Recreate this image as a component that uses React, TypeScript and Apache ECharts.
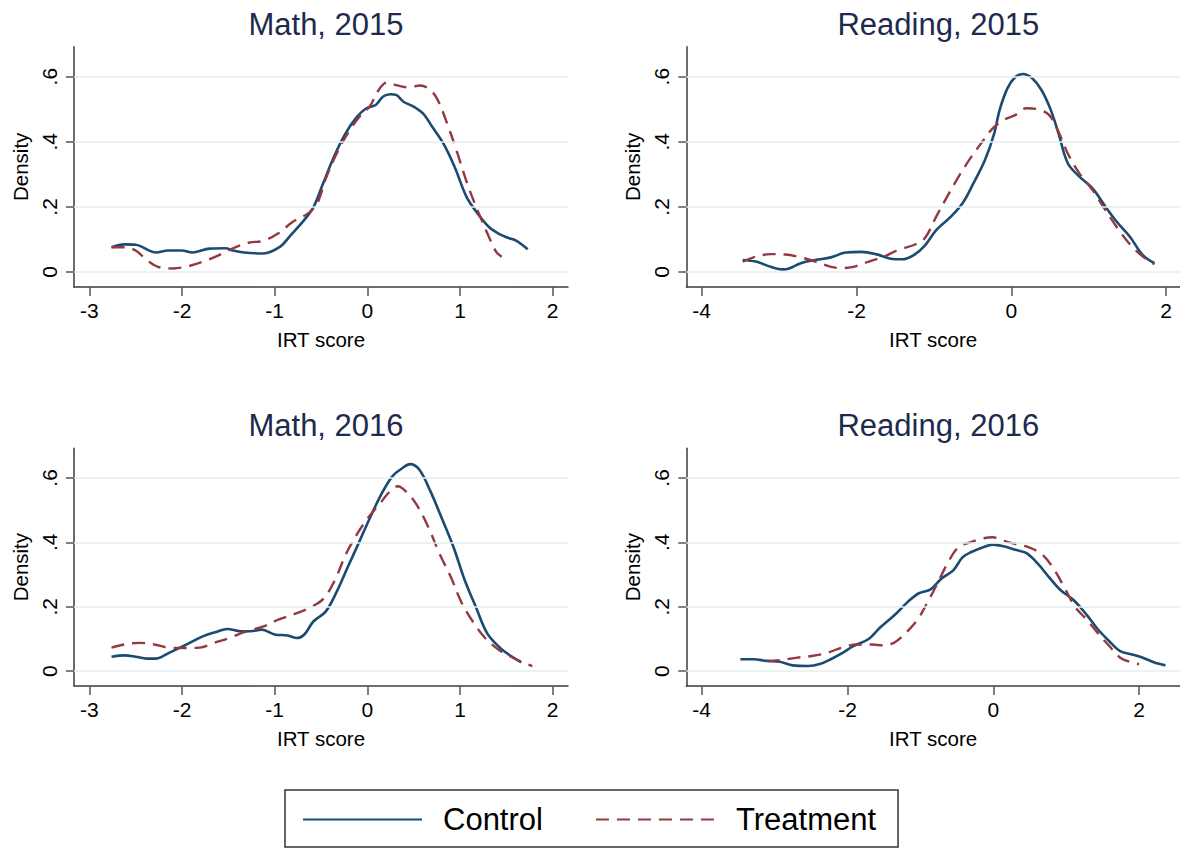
import React, { useEffect, useRef } from "react";
import * as echarts from "echarts";

// ---------- data ----------
const mathXTicks = [-3, -2, -1, 0, 1, 2];
const readingXTicks = [-4, -2, 0, 2];
const densityTicks = [0, 0.2, 0.4, 0.6];
const seriesNames = ["Control", "Treatment"];
const panelTitles = ["Math, 2015", "Reading, 2015", "Math, 2016", "Reading, 2016"];

const mathControl2015: [number, number][] = [
  [-2.76, 0.076], [-2.62, 0.085], [-2.5, 0.084], [-2.28, 0.06], [-2.15, 0.066], [-2.0, 0.066],
  [-1.89, 0.06], [-1.7, 0.072], [-1.53, 0.073], [-1.45, 0.066], [-1.33, 0.06], [-1.12, 0.057],
  [-0.94, 0.078], [-0.84, 0.109], [-0.68, 0.16], [-0.58, 0.2], [-0.48, 0.27], [-0.36, 0.354],
  [-0.235, 0.426], [-0.11, 0.477], [-0.01, 0.503], [0.09, 0.513], [0.17, 0.539], [0.25, 0.546],
  [0.31, 0.544], [0.39, 0.523], [0.5, 0.508], [0.6, 0.487], [0.7, 0.446], [0.82, 0.395],
  [0.94, 0.324], [1.07, 0.231], [1.19, 0.18], [1.31, 0.139], [1.41, 0.119], [1.51, 0.106],
  [1.61, 0.096], [1.73, 0.07],
];
const mathTreatment2015: [number, number][] = [
  [-2.76, 0.076], [-2.62, 0.076], [-2.5, 0.066], [-2.38, 0.037], [-2.26, 0.016], [-2.1, 0.011],
  [-1.93, 0.018], [-1.77, 0.032], [-1.6, 0.052], [-1.45, 0.073], [-1.28, 0.09], [-1.12, 0.096],
  [-0.96, 0.119], [-0.8, 0.155], [-0.64, 0.18], [-0.54, 0.211], [-0.44, 0.293], [-0.32, 0.37],
  [-0.2, 0.431], [-0.07, 0.482], [0.03, 0.51], [0.11, 0.554], [0.21, 0.582], [0.31, 0.574],
  [0.45, 0.567], [0.57, 0.573], [0.68, 0.559], [0.76, 0.528], [0.86, 0.457], [0.96, 0.375],
  [1.09, 0.262], [1.21, 0.175], [1.31, 0.109], [1.39, 0.062], [1.45, 0.047],
];
const readingControl2015: [number, number][] = [
  [-3.47, 0.037], [-3.3, 0.032], [-3.11, 0.016], [-2.96, 0.008], [-2.87, 0.011], [-2.72, 0.027],
  [-2.53, 0.037], [-2.33, 0.045], [-2.14, 0.06], [-1.94, 0.062], [-1.75, 0.055], [-1.56, 0.041],
  [-1.41, 0.039], [-1.26, 0.052], [-1.12, 0.08], [-0.97, 0.129], [-0.78, 0.17], [-0.63, 0.211],
  [-0.49, 0.272], [-0.34, 0.344], [-0.22, 0.426], [-0.15, 0.498], [-0.05, 0.564], [0.05, 0.598],
  [0.15, 0.608], [0.27, 0.595], [0.39, 0.559], [0.51, 0.498], [0.61, 0.426], [0.73, 0.334],
  [0.88, 0.293], [1.05, 0.257], [1.22, 0.2], [1.36, 0.155], [1.53, 0.109], [1.7, 0.052],
  [1.85, 0.027],
];
const readingTreatment2015: [number, number][] = [
  [-3.47, 0.032], [-3.3, 0.047], [-3.11, 0.055], [-2.92, 0.054], [-2.72, 0.045], [-2.53, 0.032],
  [-2.33, 0.016], [-2.18, 0.012], [-2.04, 0.016], [-1.84, 0.032], [-1.65, 0.047], [-1.46, 0.068],
  [-1.26, 0.083], [-1.12, 0.103], [-0.97, 0.17], [-0.83, 0.231], [-0.68, 0.293], [-0.53, 0.349],
  [-0.39, 0.395], [-0.24, 0.441], [-0.1, 0.467], [0.05, 0.482], [0.19, 0.503], [0.34, 0.5],
  [0.49, 0.482], [0.61, 0.431], [0.73, 0.364], [0.88, 0.303], [1.05, 0.252], [1.19, 0.2],
  [1.36, 0.139], [1.56, 0.078], [1.73, 0.042], [1.85, 0.024],
];
const mathControl2016: [number, number][] = [
  [-2.76, 0.045], [-2.62, 0.049], [-2.5, 0.045], [-2.38, 0.039], [-2.28, 0.039], [-2.14, 0.057],
  [-1.97, 0.08], [-1.77, 0.109], [-1.63, 0.122], [-1.51, 0.131], [-1.37, 0.124], [-1.26, 0.124],
  [-1.14, 0.129], [-1.0, 0.114], [-0.86, 0.111], [-0.76, 0.103], [-0.68, 0.114], [-0.58, 0.155],
  [-0.45, 0.185], [-0.33, 0.247], [-0.21, 0.324], [-0.09, 0.4], [0.03, 0.477], [0.15, 0.549],
  [0.27, 0.605], [0.38, 0.631], [0.46, 0.643], [0.56, 0.626], [0.68, 0.559], [0.8, 0.477],
  [0.93, 0.385], [1.05, 0.283], [1.17, 0.2], [1.29, 0.119], [1.43, 0.073], [1.55, 0.047],
  [1.66, 0.027],
];
const mathTreatment2016: [number, number][] = [
  [-2.76, 0.073], [-2.62, 0.083], [-2.46, 0.088], [-2.3, 0.083], [-2.14, 0.073], [-1.97, 0.072],
  [-1.81, 0.073], [-1.65, 0.088], [-1.49, 0.103], [-1.33, 0.121], [-1.12, 0.139], [-0.96, 0.16],
  [-0.76, 0.18], [-0.6, 0.2], [-0.47, 0.226], [-0.35, 0.283], [-0.23, 0.364], [-0.11, 0.426],
  [0.01, 0.477], [0.13, 0.518], [0.23, 0.554], [0.33, 0.574], [0.43, 0.554], [0.53, 0.518],
  [0.66, 0.446], [0.78, 0.364], [0.9, 0.293], [1.02, 0.211], [1.15, 0.149], [1.27, 0.103],
  [1.41, 0.068], [1.55, 0.045], [1.68, 0.027], [1.78, 0.016],
];
const readingControl2016: [number, number][] = [
  [-3.47, 0.037], [-3.29, 0.037], [-3.11, 0.032], [-2.93, 0.029], [-2.75, 0.018], [-2.54, 0.016],
  [-2.38, 0.022], [-2.23, 0.037], [-2.08, 0.055], [-1.92, 0.078], [-1.71, 0.1], [-1.56, 0.134],
  [-1.35, 0.175], [-1.17, 0.216], [-1.02, 0.242], [-0.86, 0.254], [-0.71, 0.288], [-0.55, 0.313],
  [-0.42, 0.354], [-0.3, 0.37], [-0.14, 0.385], [-0.01, 0.393], [0.14, 0.388], [0.3, 0.377],
  [0.45, 0.367], [0.61, 0.334], [0.76, 0.293], [0.92, 0.252], [1.1, 0.221], [1.28, 0.175],
  [1.43, 0.131], [1.59, 0.093], [1.74, 0.062], [1.9, 0.052], [2.05, 0.042], [2.21, 0.027],
  [2.36, 0.018],
];
const readingTreatment2016: [number, number][] = [
  [-3.11, 0.032], [-2.9, 0.035], [-2.69, 0.042], [-2.49, 0.047], [-2.28, 0.057], [-2.08, 0.073],
  [-1.87, 0.083], [-1.66, 0.083], [-1.51, 0.08], [-1.35, 0.09], [-1.2, 0.119], [-1.04, 0.16],
  [-0.91, 0.211], [-0.79, 0.262], [-0.63, 0.334], [-0.48, 0.385], [-0.32, 0.4], [-0.17, 0.411],
  [-0.01, 0.416], [0.14, 0.405], [0.3, 0.395], [0.48, 0.385], [0.66, 0.364], [0.81, 0.324],
  [0.97, 0.262], [1.12, 0.2], [1.28, 0.16], [1.43, 0.119], [1.59, 0.078], [1.74, 0.042],
  [1.9, 0.027], [2.0, 0.022],
];

// ---------- layout / style ----------
const FONT = '"Liberation Sans", Arial, Helvetica, sans-serif';
const CONTROL_COLOR = "#1b4a72";
const TREAT_COLOR = "#94393f";
const TITLE_COLOR = "#1c2b4d";
const GRID_COLOR = "#e4eef0";
const AXIS_COLOR = "#3c3c3c";

const panels = [
  { control: mathControl2015, treat: mathTreatment2015, xTicks: mathXTicks, xMin: -3.165, xMax: 2.165, left: 74, top: 46.7, height: 240.3 },
  { control: readingControl2015, treat: readingTreatment2015, xTicks: readingXTicks, xMin: -4.199, xMax: 2.18, left: 686.3, top: 46.7, height: 240.3 },
  { control: mathControl2016, treat: mathTreatment2016, xTicks: mathXTicks, xMin: -3.165, xMax: 2.165, left: 74, top: 448.3, height: 237.7 },
  { control: readingControl2016, treat: readingTreatment2016, xTicks: readingXTicks, xMin: -4.211, xMax: 2.56, left: 686.3, top: 448.3, height: 237.7 },
];
const PANEL_WIDTH = 494;

const fmtDensity = (v: number) => (Math.abs(v) < 1e-9 ? "0" : v.toFixed(1).replace(/^0/, ""));

export default function App() {
  const ref = useRef<HTMLDivElement>(null);

  useEffect(() => {
    if (!ref.current) return;
    const chart = echarts.init(ref.current, undefined, { renderer: "svg" });

    const grid = panels.map((p) => ({ left: p.left, top: p.top, width: PANEL_WIDTH, height: p.height }));

    const xAxis = panels.map((p, i) => ({
      type: "value",
      gridIndex: i,
      min: p.xMin,
      max: p.xMax,
      position: "bottom",
      axisLine: { show: true, onZero: false, lineStyle: { color: AXIS_COLOR, width: 1.5 } },
      axisTick: { show: true, customValues: p.xTicks, length: 9, lineStyle: { color: "#555", width: 1.5 } },
      axisLabel: { customValues: p.xTicks, fontSize: 21, color: "#000", fontFamily: FONT, margin: 13 },
      splitLine: { show: false },
      name: "IRT score",
      nameLocation: "middle",
      nameGap: 42,
      nameTextStyle: { fontSize: 20.5, color: "#000", fontFamily: FONT },
    }));

    const yAxis = panels.map((p, i) => ({
      type: "value",
      gridIndex: i,
      min: -0.046,
      max: 0.692,
      axisLine: { show: true, onZero: false, lineStyle: { color: AXIS_COLOR, width: 1.5 } },
      axisTick: { show: true, customValues: densityTicks, length: 8, lineStyle: { color: "#555", width: 1.5 } },
      axisLabel: {
        customValues: densityTicks,
        rotate: 90,
        fontSize: 21,
        color: "#000",
        fontFamily: FONT,
        margin: 14,
        formatter: fmtDensity,
      },
      splitLine: { show: false },
      name: "Density",
      nameLocation: "middle",
      nameGap: 43,
      nameTextStyle: { fontSize: 20.5, color: "#000", fontFamily: FONT },
    }));

    const series: any[] = [];
    panels.forEach((p, i) => {
      series.push({
        type: "line",
        name: "gridlines",
        xAxisIndex: i,
        yAxisIndex: i,
        data: [],
        z: 1,
        silent: true,
        markLine: {
          silent: true,
          symbol: "none",
          label: { show: false },
          lineStyle: { color: GRID_COLOR, width: 1.5, type: "solid" },
          data: densityTicks.map((v) => ({ yAxis: v })),
        },
      });
      series.push({
        type: "line",
        name: seriesNames[0],
        xAxisIndex: i,
        yAxisIndex: i,
        data: p.control,
        smooth: 0.35,
        symbol: "none",
        showSymbol: false,
        z: 3,
        color: CONTROL_COLOR,
        lineStyle: { color: CONTROL_COLOR, width: 2.6 },
      });
      series.push({
        type: "line",
        name: seriesNames[1],
        xAxisIndex: i,
        yAxisIndex: i,
        data: p.treat,
        smooth: 0.35,
        symbol: "none",
        showSymbol: false,
        z: 3,
        color: TREAT_COLOR,
        lineStyle: { color: TREAT_COLOR, width: 2.4, type: [13, 8] },
      });
    });

    const title = panels.map((p, i) => ({
      text: panelTitles[i],
      left: p.left + PANEL_WIDTH / 2,
      top: p.top - 43,
      textAlign: "center",
      textStyle: { fontSize: 31, fontWeight: "normal", color: TITLE_COLOR, fontFamily: FONT },
    }));

    chart.setOption({
      animation: false,
      backgroundColor: "#fff",
      title,
      grid,
      xAxis,
      yAxis,
      series,
      legend: {
        data: seriesNames,
        left: 285,
        top: 790,
        orient: "horizontal",
        selectedMode: false,
        padding: [14, 22, 12, 17],
        itemWidth: 119,
        itemHeight: 20,
        itemGap: 52,
        borderColor: "#333",
        borderWidth: 1.5,
        itemStyle: { opacity: 0, borderWidth: 0 },
        textStyle: { fontSize: 31, color: "#000", fontFamily: FONT, padding: [0, 0, 0, 16] },
      },
    });

    return () => chart.dispose();
  }, []);

  return (
    <div
      ref={ref}
      style={{ position: "fixed", left: 0, top: 0, width: 1180, height: 850, background: "#fff" }}
    />
  );
}
